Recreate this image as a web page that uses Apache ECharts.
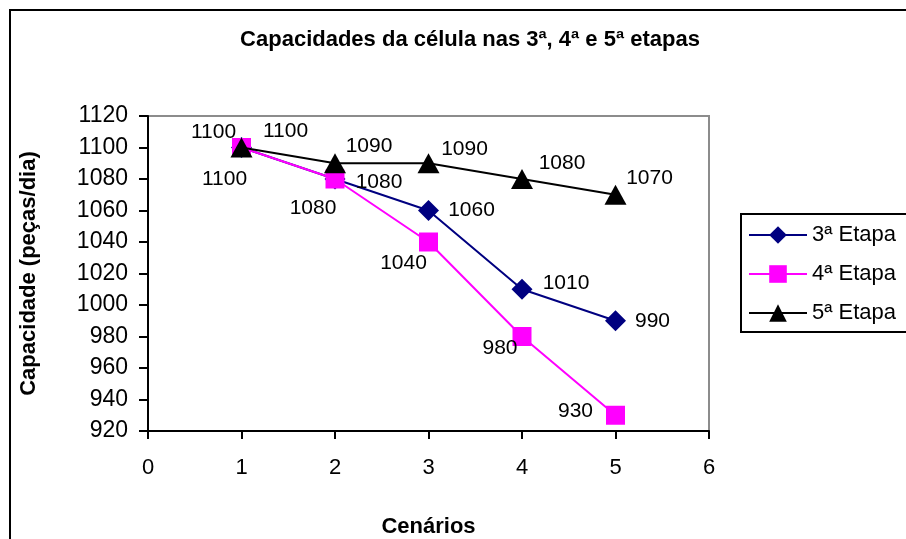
<!DOCTYPE html>
<html>
<head>
<meta charset="utf-8">
<script src="https://cdn.jsdelivr.net/npm/echarts@6/dist/echarts.min.js"></script>
<style>
  html, body { margin: 0; padding: 0; background: #fff; }
  #chart { width: 906px; height: 539px; }
</style>
</head>
<body>
<div id="chart"></div>
<script>
// cenarios (x) and the three series
const cenarios = [1, 2, 3, 4, 5];
const etapa3 = [1100, 1080, 1060, 1010, 990];
const etapa4 = [1100, 1080, 1040, 980, 930];
const etapa5 = [1100, 1090, 1090, 1080, 1070];
const seriesNames = ['3ª Etapa', '4ª Etapa', '5ª Etapa'];

// label offsets (px from marker centre), as placed in the picture
const off3 = [[-28, -15], [44, 3], [43, 0], [44, -6], [37, 0]];
const off4 = [[-17, 32], [-22, 29], [-25, 21], [-22, 12], [-40, -4]];
const off5 = [[44, -16], [34, -17], [36, -14], [40, -16], [34, -17]];

function build(vals, offs) {
  return vals.map(function (v, i) {
    return {
      value: [cenarios[i], v],
      label: { offset: offs[i] }
    };
  });
}

const font = 'Liberation Sans, Arial, sans-serif';
const labelStyle = {
  show: true,
  position: 'inside',
  color: '#000',
  fontSize: 21,
  fontFamily: font,
  formatter: function (p) { return p.value[1]; }
};

let myChart = echarts.init(document.getElementById('chart'));
let option = {
  animation: false,
  backgroundColor: '#fff',
  title: {
    text: 'Capacidades da célula nas 3ª, 4ª e 5ª etapas',
    left: 465,
    top: 24,
    textAlign: 'center',
    textStyle: { fontFamily: font, fontSize: 22, fontWeight: 'bold', color: '#000' }
  },
  graphic: [{
    type: 'rect',
    shape: { x: 10, y: 10, width: 910, height: 540 },
    style: { fill: 'none', stroke: '#000', lineWidth: 2 },
    silent: true,
    z: -1
  }],
  grid: {
    left: 148,
    top: 116,
    right: 197,
    bottom: 108,
    outerBoundsMode: 'none',
    show: true,
    borderColor: '#8c8c8c',
    borderWidth: 2
  },
  legend: {
    orient: 'vertical',
    left: 741,
    top: 214,
    data: seriesNames,
    itemWidth: 58,
    itemHeight: 22,
    itemGap: 17,
    padding: [10, 30, 8, 7],
    borderColor: '#000',
    borderWidth: 2,
    textStyle: { fontFamily: font, fontSize: 22, color: '#000' }
  },
  xAxis: {
    type: 'value',
    min: 0,
    max: 6,
    interval: 1,
    name: 'Cenários',
    nameLocation: 'middle',
    nameGap: 85,
    nameTextStyle: { fontFamily: font, fontSize: 22, fontWeight: 'bold', color: '#000' },
    splitLine: { show: false },
    axisLine: { lineStyle: { color: '#000', width: 2 } },
    axisTick: { length: 8, lineStyle: { color: '#000', width: 2 } },
    axisLabel: { margin: 26, fontFamily: font, fontSize: 22, color: '#000' }
  },
  yAxis: {
    type: 'value',
    min: 920,
    max: 1120,
    interval: 20,
    name: 'Capacidade (peças/dia)',
    nameLocation: 'middle',
    nameGap: 108,
    nameTextStyle: { fontFamily: font, fontSize: 22, fontWeight: 'bold', color: '#000' },
    splitLine: { show: false },
    axisLine: { show: true, lineStyle: { color: '#000', width: 2 } },
    axisTick: { show: true, length: 9, lineStyle: { color: '#000', width: 2 } },
    axisLabel: {
      margin: 20, fontFamily: font, fontSize: 23, color: '#000',
      formatter: function (v) { return String(v); }
    }
  },
  series: [
    {
      name: seriesNames[0],
      type: 'line',
      data: build(etapa3, off3),
      symbol: 'diamond',
      symbolSize: [21, 21],
      color: '#000080',
      lineStyle: { color: '#000080', width: 2 },
      itemStyle: { color: '#000080' },
      label: labelStyle,
      z: 3
    },
    {
      name: seriesNames[1],
      type: 'line',
      data: build(etapa4, off4),
      symbol: 'rect',
      symbolSize: 19,
      color: '#ff00ff',
      lineStyle: { color: '#ff00ff', width: 2 },
      itemStyle: { color: '#ff00ff' },
      label: labelStyle,
      z: 4
    },
    {
      name: seriesNames[2],
      type: 'line',
      data: build(etapa5, off5),
      symbol: 'triangle',
      symbolSize: [22, 20],
      color: '#000',
      lineStyle: { color: '#000', width: 2 },
      itemStyle: { color: '#000' },
      label: labelStyle,
      z: 5
    }
  ]
};
myChart.setOption(option);
</script>
</body>
</html>
